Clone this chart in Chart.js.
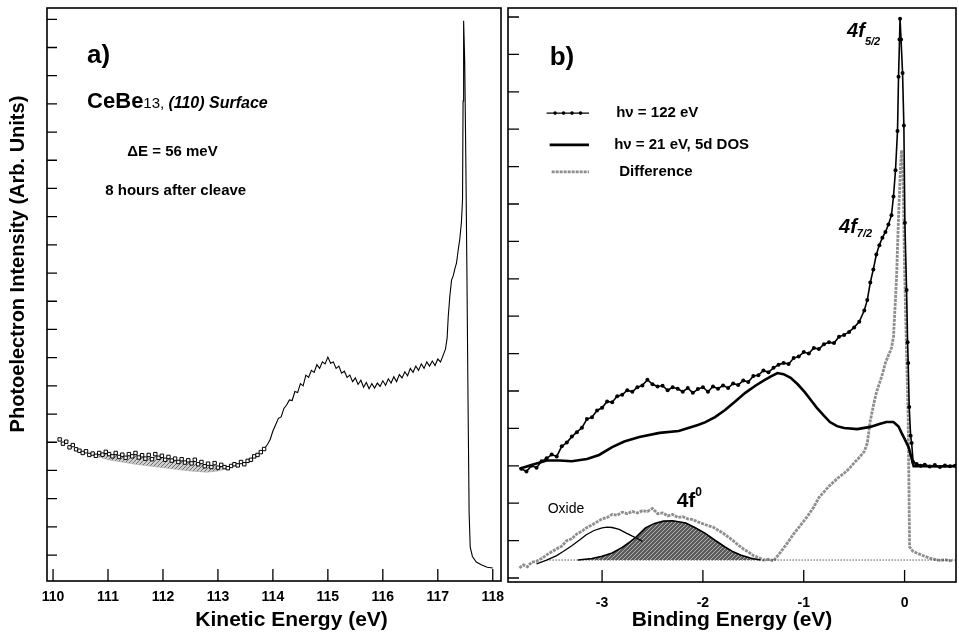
<!DOCTYPE html>
<html>
<head>
<meta charset="utf-8">
<script src="https://cdn.jsdelivr.net/npm/chart.js@4.4.1/dist/chart.umd.min.js"></script>
<style>
  html, body { margin:0; padding:0; background:#fff; overflow:hidden; }
  #wrap { position:relative; width:959px; height:637px; }
  canvas { position:absolute; top:0; }
  #chartA { left:0; }
  #chartB { left:498px; }
</style>
</head>
<body>
<div id="wrap">
  <canvas id="chartA" width="520" height="637"></canvas>
  <canvas id="chartB" width="462" height="637"></canvas>
</div>
<script>
const FONT = "'Liberation Sans', Arial, Helvetica, sans-serif";
Chart.defaults.font.family = FONT;
Chart.defaults.color = '#000';

// ---- panel a) kinetic energy spectrum ----
const keTicks = [110, 111, 112, 113, 114, 115, 116, 117, 118];
const keLevels = [0,1,2,3,4,5,6,7,8,9,10,11,12,13,14,15,16,17,18,19];
const squareLimit = 113.86;
const kineticSpectrum = [
  [110.12,4.10],[110.18,3.95],[110.24,4.02],[110.30,3.82],[110.36,3.90],[110.42,3.75],[110.48,3.70],
  [110.54,3.62],[110.60,3.68],[110.66,3.55],[110.72,3.60],[110.78,3.52],[110.84,3.62],[110.90,3.56],
  [110.96,3.66],[111.02,3.58],[111.08,3.50],[111.14,3.62],[111.20,3.48],[111.26,3.56],[111.32,3.45],
  [111.38,3.58],[111.44,3.50],[111.50,3.62],[111.56,3.46],[111.62,3.54],[111.68,3.42],[111.74,3.55],
  [111.80,3.40],[111.86,3.58],[111.92,3.45],[111.98,3.52],[112.04,3.38],[112.10,3.48],[112.16,3.35],
  [112.22,3.42],[112.28,3.30],[112.34,3.40],[112.40,3.28],[112.46,3.36],[112.52,3.25],[112.58,3.38],
  [112.64,3.22],[112.70,3.30],[112.76,3.15],[112.82,3.24],[112.88,3.12],[112.94,3.26],[113.00,3.10],
  [113.06,3.20],[113.12,3.12],[113.18,3.08],[113.24,3.16],[113.30,3.22],[113.36,3.18],[113.42,3.30],
  [113.48,3.22],[113.54,3.34],[113.60,3.38],[113.66,3.50],[113.72,3.55],[113.78,3.65],[113.84,3.76],
  [113.90,3.92],[113.95,4.10],[114.00,4.40],[114.05,4.62],[114.10,4.85],[114.15,4.90],[114.20,5.20],
  [114.25,5.32],[114.30,5.50],[114.35,5.48],[114.40,5.80],[114.45,5.76],[114.50,6.08],[114.55,6.00],
  [114.60,6.38],[114.65,6.30],[114.70,6.55],[114.75,6.48],[114.80,6.75],[114.85,6.62],[114.90,6.85],
  [114.95,6.78],[115.00,7.02],[115.05,6.80],[115.10,6.85],[115.15,6.62],[115.20,6.70],[115.25,6.45],
  [115.30,6.52],[115.35,6.30],[115.40,6.38],[115.45,6.15],[115.50,6.28],[115.55,6.05],[115.60,6.20],
  [115.65,5.95],[115.70,6.12],[115.75,5.90],[115.80,6.08],[115.85,5.92],[115.90,6.10],[115.95,5.98],
  [116.00,6.18],[116.05,6.02],[116.10,6.25],[116.15,6.10],[116.20,6.32],[116.25,6.15],[116.30,6.40],
  [116.35,6.28],[116.40,6.50],[116.45,6.36],[116.50,6.62],[116.55,6.48],[116.60,6.70],[116.65,6.55],
  [116.70,6.78],[116.75,6.62],[116.80,6.85],[116.85,6.70],[116.90,6.88],[116.95,6.72],[117.00,6.95],
  [117.05,6.85],[117.10,7.10],[117.14,7.30],[117.17,7.70],[117.19,8.45],[117.22,9.20],[117.25,9.75],
  [117.28,9.90],[117.31,10.15],[117.34,10.35],[117.37,10.80],[117.40,11.20],[117.43,11.80],[117.45,12.60],
  [117.46,16.10],[117.47,18.95],[117.49,17.50],[117.51,14.00],[117.53,10.00],[117.55,5.50],[117.57,1.50],
  [117.59,0.28],[117.63,-0.05],[117.70,-0.25],[117.80,-0.35],[117.90,-0.43],[118.00,-0.46]
];
const shadedLower = [
  [110.80,3.50],[111.00,3.38],[111.50,3.22],[112.00,3.10],[112.50,2.98],[112.80,2.94],
  [113.00,2.98],[113.20,3.10],[113.30,3.18]
];
const titleA = {x: 'Kinetic Energy (eV)', y: 'Photoelectron Intensity (Arb. Units)'};

// ---- panel b) binding energy spectra ----
const beTicks = [-3, -2, -1, 0];
const beLevels = [0,1,2,3,4,5,6,7,8,9,10,11,12,13,14,15];
const seriesLabels = ['h\u03bd = 122 eV', 'h\u03bd = 21 eV, 5d DOS', 'Difference'];
const hv122 = [
  [-3.80,2.92],[-3.75,2.85],[-3.70,3.00],[-3.65,2.95],[-3.60,3.12],[-3.55,3.20],[-3.50,3.30],[-3.45,3.25],
  [-3.40,3.52],[-3.35,3.62],[-3.30,3.78],[-3.25,3.90],[-3.20,4.02],[-3.15,4.25],[-3.10,4.30],[-3.05,4.48],
  [-3.00,4.55],[-2.95,4.72],[-2.90,4.70],[-2.85,4.86],[-2.80,4.90],[-2.75,5.02],[-2.70,4.98],[-2.65,5.10],
  [-2.60,5.15],[-2.55,5.30],[-2.50,5.18],[-2.45,5.12],[-2.40,5.14],[-2.35,5.02],[-2.30,5.10],[-2.25,5.06],
  [-2.20,4.98],[-2.15,5.08],[-2.10,4.95],[-2.05,5.05],[-2.00,5.10],[-1.95,4.98],[-1.90,5.12],[-1.85,5.06],
  [-1.80,5.15],[-1.75,5.08],[-1.70,5.20],[-1.65,5.16],[-1.60,5.28],[-1.55,5.24],[-1.50,5.40],[-1.45,5.42],
  [-1.40,5.55],[-1.35,5.50],[-1.30,5.62],[-1.25,5.70],[-1.20,5.75],[-1.15,5.72],[-1.10,5.88],[-1.05,5.92],
  [-1.00,6.04],[-0.95,6.00],[-0.90,6.15],[-0.85,6.12],[-0.80,6.25],[-0.75,6.30],[-0.70,6.28],[-0.65,6.45],
  [-0.60,6.50],[-0.55,6.58],[-0.50,6.70],[-0.45,6.85],[-0.40,7.15],[-0.37,7.43],[-0.34,7.90],[-0.31,8.25],
  [-0.28,8.65],[-0.25,8.90],[-0.22,9.10],[-0.19,9.25],[-0.16,9.45],[-0.13,9.70],[-0.11,10.20],[-0.09,10.90],
  [-0.07,11.95],[-0.06,13.40],[-0.05,14.40],[-0.045,14.95],[-0.035,14.40],[-0.02,13.50],[-0.007,12.10],
  [0.003,9.50],[0.02,7.70],[0.03,6.30],[0.036,5.75],[0.046,4.57],[0.06,3.80],[0.07,3.61],[0.085,3.10],
  [0.12,3.05],[0.16,3.00],[0.20,3.03],[0.25,2.98],[0.30,3.02],[0.35,2.97],[0.40,3.01],[0.45,2.99],[0.50,3.00]
];
const hv21dos = [
  [-3.82,2.92],[-3.70,3.02],[-3.55,3.14],[-3.42,3.14],[-3.30,3.12],[-3.15,3.18],[-3.03,3.29],[-2.90,3.50],
  [-2.78,3.65],[-2.63,3.77],[-2.43,3.88],[-2.24,3.93],[-2.05,4.09],[-1.98,4.16],
  [-1.88,4.30],[-1.78,4.49],[-1.68,4.72],[-1.58,4.95],[-1.48,5.14],[-1.39,5.29],[-1.32,5.40],[-1.26,5.48],
  [-1.20,5.45],[-1.13,5.35],[-1.06,5.18],[-0.99,4.97],[-0.93,4.76],[-0.87,4.55],[-0.80,4.34],[-0.74,4.17],
  [-0.67,4.06],[-0.60,4.01],[-0.47,3.98],[-0.34,4.04],[-0.25,4.12],[-0.18,4.17],[-0.11,4.17],[-0.06,4.05],
  [-0.03,3.88],[0.00,3.72],[0.04,3.50],[0.07,3.20],[0.09,2.99],[0.20,2.99],[0.35,2.98],[0.50,2.99]
];
const difference = [
  [-3.82,0.27],[-3.78,0.35],[-3.74,0.30],[-3.70,0.42],[-3.65,0.45],[-3.60,0.52],[-3.55,0.62],[-3.50,0.70],
  [-3.45,0.78],[-3.40,0.85],[-3.35,1.00],[-3.30,1.05],[-3.25,1.18],[-3.20,1.25],[-3.15,1.35],[-3.10,1.42],
  [-3.05,1.50],[-3.00,1.58],[-2.95,1.62],[-2.90,1.70],[-2.85,1.68],[-2.80,1.76],[-2.75,1.72],[-2.70,1.78],
  [-2.65,1.74],[-2.60,1.80],[-2.55,1.78],[-2.50,1.86],[-2.45,1.72],[-2.40,1.74],[-2.35,1.66],[-2.30,1.70],
  [-2.25,1.62],[-2.20,1.64],[-2.15,1.58],[-2.10,1.56],[-2.05,1.50],[-2.00,1.45],[-1.95,1.40],[-1.90,1.36],
  [-1.85,1.28],[-1.80,1.20],[-1.75,1.10],[-1.70,1.00],[-1.65,0.88],[-1.60,0.78],[-1.55,0.70],[-1.50,0.60],
  [-1.45,0.55],[-1.40,0.48],[-1.35,0.50],[-1.30,0.46],[-1.25,0.62],[-1.20,0.80],[-1.15,0.98],[-1.10,1.18],
  [-1.05,1.35],[-1.00,1.52],[-0.95,1.70],[-0.90,1.90],[-0.85,2.15],[-0.80,2.30],[-0.75,2.45],[-0.70,2.58],
  [-0.65,2.70],[-0.60,2.80],[-0.55,2.92],[-0.50,3.08],[-0.45,3.22],[-0.40,3.38],[-0.37,3.60],[-0.34,4.20],
  [-0.31,4.60],[-0.28,4.95],[-0.25,5.20],[-0.22,5.45],[-0.19,5.75],[-0.16,5.95],[-0.13,6.15],[-0.11,6.45],
  [-0.08,8.00],[-0.06,9.65],[-0.04,11.00],[-0.03,11.44],[-0.015,10.80],[0.00,8.30],[0.02,6.00],[0.036,4.22],
  [0.05,0.83],[0.08,0.72],[0.12,0.67],[0.18,0.60],[0.25,0.53],[0.30,0.50],[0.35,0.47],[0.40,0.49],
  [0.45,0.46],[0.48,0.48]
];
const oxidePeak = [
  [-3.65,0.38],[-3.55,0.48],[-3.45,0.60],[-3.39,0.70],[-3.30,0.86],[-3.22,1.02],[-3.16,1.15],[-3.08,1.27],
  [-3.00,1.34],[-2.95,1.36],[-2.90,1.35],[-2.83,1.30],[-2.76,1.20],[-2.70,1.12],[-2.66,1.07],[-2.60,0.98]
];
const f0Peak = [
  [-3.24,0.48],[-3.10,0.52],[-3.00,0.58],[-2.90,0.67],[-2.80,0.82],[-2.72,0.97],[-2.66,1.10],[-2.57,1.34],
  [-2.48,1.46],[-2.39,1.52],[-2.30,1.53],[-2.17,1.47],[-2.08,1.35],[-1.98,1.20],[-1.88,1.01],[-1.78,0.83],
  [-1.70,0.70],[-1.62,0.61],[-1.52,0.53],[-1.43,0.48]
];
const baseLevel = 0.48;
const baseline = [[-3.55,0.48],[0.51,0.48]];

function xy(arr){
  return arr.map(p => ({x: p[0], y: p[1]}));
}

function hatch(bg, fg){
  const c = document.createElement('canvas');
  c.width = 4; c.height = 4;
  const g = c.getContext('2d');
  g.fillStyle = bg; g.fillRect(0, 0, 4, 4);
  g.strokeStyle = fg; g.lineWidth = 1;
  g.beginPath(); g.moveTo(0, 4); g.lineTo(4, 0); g.stroke();
  return g.createPattern(c, 'repeat');
}

function fixedTicks(list){
  return function(axis){ axis.ticks = list.map(v => ({value: v})); };
}

// frame + inward tick marks
function makeFrame(xLen, yLen){
  return {
    id: 'frame',
    afterDatasetsDraw(chart){
      const ctx = chart.ctx, a = chart.chartArea;
      const x = chart.scales.x, y = chart.scales.y;
      ctx.save();
      ctx.strokeStyle = '#000';
      ctx.lineWidth = 1.6;
      ctx.strokeRect(a.left, a.top, a.right - a.left, a.bottom - a.top);
      ctx.lineWidth = 1.3;
      ctx.beginPath();
      x.ticks.forEach(t => {
        const px = x.getPixelForValue(t.value);
        ctx.moveTo(px, a.bottom); ctx.lineTo(px, a.bottom - xLen);
      });
      y.ticks.forEach(t => {
        const py = y.getPixelForValue(t.value);
        ctx.moveTo(a.left, py); ctx.lineTo(a.left + yLen, py);
      });
      ctx.stroke();
      ctx.restore();
    }
  };
}

// text notes placed at data coordinates
function makeNotes(items){
  return {
    id: 'notes',
    afterDraw(chart){
      const ctx = chart.ctx, x = chart.scales.x, y = chart.scales.y;
      ctx.save();
      ctx.fillStyle = '#000';
      ctx.textBaseline = 'alphabetic';
      items.forEach(it => {
        let px = x.getPixelForValue(it.x);
        const py = y.getPixelForValue(it.y);
        it.parts.forEach(p => {
          ctx.font = p.f + ' ' + FONT;
          ctx.fillText(p.t, px, py + (p.dy || 0));
          px += ctx.measureText(p.t).width + (p.gap || 0);
        });
      });
      ctx.restore();
    }
  };
}

// axis captions of panel a, centred on given data positions
function makeCaptions(t, xCentre, yCentre){
  return {
    id: 'captions',
    afterDraw(chart){
      const ctx = chart.ctx, x = chart.scales.x, y = chart.scales.y;
      ctx.save();
      ctx.fillStyle = '#000';
      ctx.font = 'bold 21px ' + FONT;
      ctx.textAlign = 'center';
      ctx.textBaseline = 'middle';
      ctx.fillText(t.x, x.getPixelForValue(xCentre), 620);
      ctx.translate(18, y.getPixelForValue(yCentre));
      ctx.rotate(-Math.PI / 2);
      ctx.font = 'bold 20px ' + FONT;
      ctx.fillText(t.y, 0, 0);
      ctx.restore();
    }
  };
}

// hand placed legend for panel b
function makeKey(rows){
  return {
    id: 'key',
    afterDraw(chart){
      const ctx = chart.ctx, x = chart.scales.x, y = chart.scales.y;
      ctx.save();
      rows.forEach(r => {
        const ds = chart.data.datasets[r.ds];
        const x1 = x.getPixelForValue(r.x1), x2 = x.getPixelForValue(r.x2);
        const py = y.getPixelForValue(r.y);
        ctx.strokeStyle = ds.borderColor;
        ctx.lineWidth = r.dots ? 1.2 : ds.borderWidth;
        ctx.setLineDash(ds.borderDash || []);
        ctx.beginPath(); ctx.moveTo(x1, py); ctx.lineTo(x2, py); ctx.stroke();
        ctx.setLineDash([]);
        if (r.dots){
          ctx.fillStyle = '#000';
          for (let i = 0; i < 4; i++){
            ctx.beginPath();
            ctx.arc(x1 + (x2 - x1) * (0.2 + i * 0.2), py, 1.8, 0, Math.PI * 2);
            ctx.fill();
          }
        }
        ctx.fillStyle = '#000';
        ctx.font = 'bold 15px ' + FONT;
        ctx.textBaseline = 'middle';
        ctx.fillText(ds.label, x.getPixelForValue(r.tx), py);
      });
      ctx.restore();
    }
  };
}

const notesA = [
  {x: 110.62, y: 17.45, parts: [{t: 'a)', f: 'bold 26px'}]},
  {x: 110.62, y: 15.85, parts: [{t: 'CeBe', f: 'bold 22px'}, {t: '13, ', f: '15px'}, {t: '(110) Surface', f: 'italic bold 16px'}]},
  {x: 111.35, y: 14.15, parts: [{t: '\u0394E = 56 meV', f: 'bold 15px'}]},
  {x: 110.95, y: 12.77, parts: [{t: '8 hours after cleave', f: 'bold 15px'}]}
];
const notesB = [
  {x: -3.52, y: 13.72, parts: [{t: 'b)', f: 'bold 26px'}]},
  {x: -0.57, y: 14.47, parts: [{t: '4f', f: 'italic bold 20px'}, {t: '5/2', f: 'italic bold 11px', dy: 8}]},
  {x: -0.65, y: 9.22, parts: [{t: '4f', f: 'italic bold 20px'}, {t: '7/2', f: 'italic bold 11px', dy: 4}]},
  {x: -3.54, y: 1.74, parts: [{t: 'Oxide', f: '14px'}]},
  {x: -2.26, y: 1.90, parts: [{t: '4f', f: 'bold 21px'}, {t: '0', f: 'bold 12px', dy: -11, gap: 0}]}
];
const keyRows = [
  {ds: 0, x1: -3.55, x2: -3.13, y: 12.43, tx: -2.86, dots: true},
  {ds: 1, x1: -3.52, x2: -3.13, y: 11.58, tx: -2.88},
  {ds: 2, x1: -3.50, x2: -3.13, y: 10.86, tx: -2.83}
];

function axisX(min, max, ticks, height, pad, title){
  return {
    type: 'linear', min: min, max: max,
    afterBuildTicks: fixedTicks(ticks),
    afterFit: ax => { ax.height = height; },
    grid: {display: false}, border: {display: false},
    ticks: {color: '#000', font: {size: 14, weight: 'bold'}, padding: pad, maxRotation: 0, autoSkip: false},
    title: {display: !!title, text: title, color: '#000', font: {size: 21, weight: 'bold'}, padding: {top: 0, bottom: 4}}
  };
}

function charts(){
  new Chart('chartA', {
    type: 'line',
    data: {
      datasets: [{
        label: 'CeBe13 (110)',
        data: xy(kineticSpectrum),
        borderColor: '#000',
        borderWidth: 1.1,
        pointStyle: 'rect',
        pointRadius: ctx => (ctx.raw && ctx.raw.x < squareLimit) ? 2.4 : 0,
        pointBorderColor: '#000',
        pointBackgroundColor: '#fff',
        pointBorderWidth: 1,
        segment: {borderColor: ctx => ctx.p1.parsed.x <= squareLimit ? 'rgba(0,0,0,0)' : undefined},
        order: 0
      }, {
        label: 'shade',
        data: xy(shadedLower),
        borderColor: '#aaa',
        borderWidth: 0.6,
        pointRadius: 0,
        fill: 0,
        backgroundColor: hatch('#cfcfcf', '#6e6e6e'),
        order: 1
      }]
    },
    options: {
      responsive: false,
      animation: false,
      layout: {padding: {top: 8, right: 19, left: 0, bottom: 0}},
      plugins: {legend: {display: false}, tooltip: {enabled: false}},
      scales: {
        x: axisX(109.89, 118.15, keTicks, 56, 0, ''),
        y: {
          min: -0.92, max: 19.40,
          afterBuildTicks: fixedTicks(keLevels),
          afterFit: ax => { ax.width = 47; },
          grid: {display: false}, border: {display: false},
          ticks: {display: false}
        }
      }
    },
    plugins: [makeFrame(12, 10), makeNotes(notesA), makeCaptions(titleA, 114.34, 10.32)]
  });

  new Chart('chartB', {
    type: 'line',
    data: {
      datasets: [{
        label: seriesLabels[0],
        data: xy(hv122),
        borderColor: '#000', borderWidth: 1.6,
        pointRadius: 2, pointBackgroundColor: '#000', pointBorderWidth: 0,
        order: 0
      }, {
        label: seriesLabels[1],
        data: xy(hv21dos),
        borderColor: '#000', borderWidth: 2.6,
        pointRadius: 0,
        order: 1
      }, {
        label: seriesLabels[2],
        data: xy(difference),
        borderColor: '#8e8e8e', borderWidth: 2.8,
        borderDash: [3, 1],
        pointRadius: 0,
        order: 5
      }, {
        label: 'oxide',
        data: xy(oxidePeak),
        borderColor: '#000', borderWidth: 1.3,
        pointRadius: 0,
        order: 2
      }, {
        label: '4f0',
        data: xy(f0Peak),
        borderColor: '#000', borderWidth: 1.6,
        pointRadius: 0,
        fill: {value: baseLevel},
        backgroundColor: hatch('#5c5c5c', '#b0b0b0'),
        order: 3
      }, {
        label: 'baseline',
        data: xy(baseline),
        borderColor: '#000', borderWidth: 1,
        borderDash: [1, 2],
        pointRadius: 0,
        order: 4
      }]
    },
    options: {
      responsive: false,
      animation: false,
      layout: {padding: {top: 8, right: 0, left: 0, bottom: 0}},
      plugins: {legend: {display: false}, tooltip: {enabled: false}},
      scales: {
        x: axisX(-3.933, 0.51, beTicks, 55, 5, 'Binding Energy (eV)'),
        y: {
          min: -0.107, max: 15.24,
          afterBuildTicks: fixedTicks(beLevels),
          afterFit: ax => { ax.width = 10; },
          grid: {display: false}, border: {display: false},
          ticks: {display: false}
        }
      }
    },
    plugins: [makeFrame(12, 11), makeNotes(notesB), makeKey(keyRows)]
  });
}

window.addEventListener('load', charts);
</script>
</body>
</html>
